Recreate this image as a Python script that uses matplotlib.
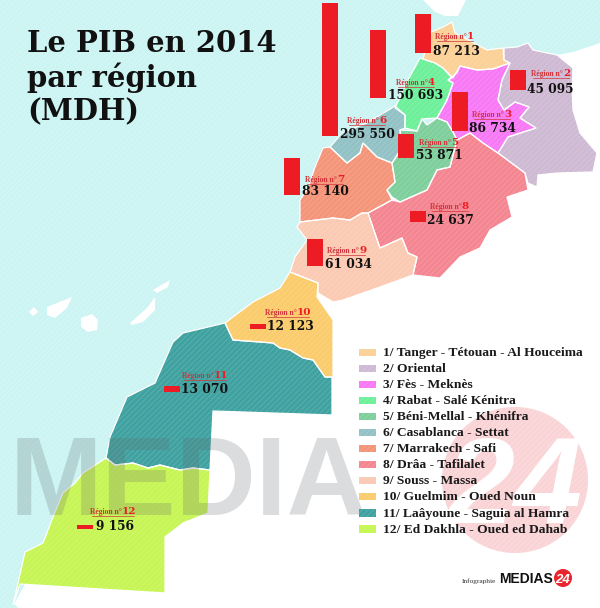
import matplotlib
matplotlib.use('Agg')
import matplotlib.pyplot as plt
from matplotlib.patches import Polygon, Circle, Rectangle

plt.rcParams['hatch.linewidth'] = 0.6

# PIB 2014 par region (MDH)
region_names = ['1/ Tanger - Tétouan - Al Houceima', '2/ Oriental', '3/ Fès - Meknès',
                '4/ Rabat - Salé Kénitra', '5/ Béni-Mellal - Khénifra', '6/ Casablanca - Settat',
                '7/ Marrakech - Safi', '8/ Drâa - Tafilalet', '9/ Souss - Massa',
                '10/ Guelmim - Oued Noun', '11/ Laâyoune - Saguia al Hamra',
                '12/ Ed Dakhla - Oued ed Dahab']
pib_values = [87213, 45095, 86734, 150693, 53871, 295550, 83140, 24637, 61034, 12123, 13070, 9156]

region_colors = ['#fbd197', '#cfbad4', '#f779f5', '#6eef9a', '#7fcf9c', '#92c2c5',
                 '#f4957a', '#f48692', '#fbcab3', '#fbcc6c', '#3fa2a0', '#c7f555']

# map outlines, in pixels of the picture
outlines = [
    [(431, 32), (443, 27), (452, 22), (455, 33), (472, 42), (487, 50), (503, 48), (504, 60), (510, 63),
     (493, 69), (477, 70), (460, 66), (453, 78), (443, 68), (435, 63), (423, 59)],
    [(504, 48), (517, 47), (528, 43), (533, 50), (557, 55), (573, 68), (572, 87), (573, 110), (580, 133),
     (597, 153), (593, 172), (557, 173), (538, 175), (537, 187), (528, 183), (525, 173), (498, 153),
     (508, 137), (536, 128), (520, 118), (529, 107), (515, 102), (504, 110), (498, 100), (502, 80),
     (510, 63), (504, 60)],
    [(460, 66), (477, 70), (493, 69), (510, 63), (502, 80), (498, 100), (504, 110), (515, 102), (529, 107),
     (520, 118), (536, 128), (508, 137), (498, 153), (483, 143), (470, 133), (457, 140), (453, 132),
     (447, 122), (437, 118), (447, 100), (453, 83), (448, 80), (457, 73)],
    [(420, 58), (435, 63), (443, 68), (452, 78), (448, 80), (453, 83), (447, 100), (437, 118), (422, 119),
     (417, 131), (405, 128), (405, 115), (395, 108), (408, 80)],
    [(417, 131), (422, 119), (427, 125), (437, 118), (447, 122), (453, 132), (457, 140), (450, 167),
     (437, 170), (427, 190), (400, 202), (392, 197), (387, 190), (395, 182), (392, 163), (402, 148),
     (400, 130)],
    [(395, 106), (405, 115), (405, 128), (400, 130), (402, 148), (392, 163), (377, 157), (363, 143),
     (360, 153), (347, 163), (330, 147), (342, 133), (367, 123)],
    [(323, 148), (330, 147), (347, 163), (360, 153), (363, 143), (377, 157), (392, 163), (395, 182),
     (387, 190), (392, 200), (368, 213), (362, 213), (350, 220), (333, 218), (300, 222), (300, 200),
     (308, 188), (315, 167)],
    [(470, 133), (483, 143), (498, 153), (525, 173), (528, 190), (507, 197), (512, 217), (490, 230),
     (480, 248), (460, 257), (440, 278), (413, 275), (417, 257), (408, 253), (402, 238), (380, 248),
     (368, 213), (392, 200), (400, 202), (427, 190), (437, 170), (450, 167), (457, 140)],
    [(300, 222), (333, 218), (350, 220), (362, 213), (368, 213), (380, 248), (402, 238), (408, 253),
     (417, 257), (413, 275), (380, 287), (343, 300), (333, 302), (318, 293), (318, 283), (290, 272),
     (295, 257), (307, 240), (297, 227)],
    [(290, 272), (318, 283), (317, 297), (333, 320), (333, 377), (325, 377), (313, 360), (303, 358),
     (290, 350), (280, 348), (273, 343), (233, 340), (225, 323), (253, 302), (280, 288)],
    [(225, 323), (233, 340), (273, 343), (280, 348), (290, 350), (303, 358), (313, 360), (325, 377),
     (332, 377), (332, 415), (213, 411), (210, 470), (193, 468), (180, 470), (160, 465), (148, 468),
     (133, 463), (115, 465), (106, 458), (110, 437), (127, 397), (155, 383), (173, 342), (183, 333)],
    [(106, 458), (115, 465), (133, 463), (148, 468), (160, 465), (180, 470), (193, 468), (210, 470),
     (208, 513), (183, 523), (165, 537), (165, 593), (20, 584), (13, 605), (25, 552), (43, 543),
     (53, 517), (63, 493), (75, 483), (83, 473)],
]
sea = [(0, 0), (423, 0), (435, 12), (445, 16), (458, 16), (466, 0), (600, 0), (600, 43), (573, 52),
       (530, 60), (470, 100), (400, 180), (340, 260), (300, 300), (260, 340), (200, 400), (120, 470),
       (60, 520), (30, 575), (14, 604), (18, 608), (0, 608)]
islands = [
    [(47, 307), (72, 297), (67, 308), (55, 318), (47, 315)],
    [(130, 323), (147, 308), (155, 297), (155, 310), (143, 322), (132, 325)],
    [(153, 290), (170, 280), (168, 287), (157, 293)],
    [(81, 318), (92, 314), (98, 320), (97, 330), (88, 332), (81, 327)],
    [(29, 312), (34, 307), (38, 312), (33, 316)],
]

# bar placement: centre x and foot y of each bar, on the map
bar_x = [423, 518, 460, 378, 406, 330, 292, 418, 315, 258, 172, 85]
bar_foot = [53, 90, 131, 98, 158, 136, 195, 222, 266, 329, 392, 529]
px_per_mdh = 0.45 / 1000
# value text and "Région n°" label
value_pos = [(433, 55), (527, 93), (469, 132), (388, 99), (416, 159), (340, 138), (302, 195), (427, 224),
             (325, 268), (267, 330), (181, 393), (96, 530)]
label_pos = [(467, 39), (563, 76), (504, 117), (428, 85), (451, 145), (379, 123), (337, 182), (462, 209),
             (359, 253), (297, 315), (214, 378), (122, 514)]


def lighten(col, amount=0.16):
    rgb = matplotlib.colors.to_rgb(col)
    return tuple(c + (1 - c) * amount for c in rgb)


fig = plt.figure(figsize=(6, 6.08), dpi=100)
ax = fig.add_axes([0, 0, 1, 1])
ax.set_xlim(0, 600)
ax.set_ylim(608, 0)
ax.axis('off')

serif = 'Liberation Serif'
wide_serif = 'DejaVu Serif'
sans = 'Liberation Sans'

ax.add_patch(Polygon(sea, closed=True, facecolor='#cbf4f3', edgecolor='#d6f7f6', hatch='//////', lw=0, zorder=1))
for isl in islands:
    ax.add_patch(Polygon(isl, closed=True, facecolor='white', edgecolor='none', zorder=2))

# watermark circle
ax.add_patch(Circle((515, 480), 73, facecolor='#f9d3d5', edgecolor='#fbdfe0', hatch='//////', lw=0, zorder=2))
ax.text(515, 523, '24', family=sans, weight='bold', style='italic', fontsize=88,
        color='white', ha='center', va='baseline', zorder=2.5)

for pts, col in zip(outlines, region_colors):
    ax.add_patch(Polygon(pts, closed=True, facecolor=col, edgecolor=lighten(col), hatch='//////', lw=0, zorder=3))
    ax.add_patch(Polygon(pts, closed=True, fill=False, edgecolor='white', lw=0.9, zorder=3.2))

# watermark text sits over the map
ax.text(10, 515, 'MEDIA', family=sans, weight='bold', fontsize=80, color='#5f6468',
        alpha=0.22, ha='left', va='baseline', zorder=3.5)

# bars
heights = [-v * px_per_mdh for v in pib_values]
ax.bar(bar_x, heights, width=16, bottom=bar_foot, color='#ed1c24', zorder=4)

for i, v in enumerate(pib_values):
    txt = f'{v:,}'.replace(',', ' ')
    ax.text(value_pos[i][0], value_pos[i][1], txt, family=wide_serif, weight='bold', fontsize=8.8,
            color='#111111', ha='left', va='baseline', zorder=5)
    lx, ly = label_pos[i]
    ax.text(lx, ly, 'Région n°', family=serif, weight='bold', fontsize=5.5, color='#d0343a',
            ha='right', va='baseline', zorder=5)
    ax.text(lx, ly, str(i + 1), family=wide_serif, weight='bold', fontsize=7.5, color='#ed1c24',
            ha='left', va='baseline', zorder=5)
    ax.plot([lx - 30, lx + (6 if i < 9 else 12)], [ly + 2, ly + 2], color='#d0343a', lw=0.5, zorder=5)

# title
for line, y in zip(['Le PIB en 2014', 'par région', '(MDH)'], [52, 87, 120]):
    ax.text(27, y, line, family=wide_serif, weight='bold', fontsize=20.9, color='#111111',
            ha='left', va='baseline', zorder=6)

# legend
for i, name in enumerate(region_names):
    y = 352 + i * 16.05
    ax.add_patch(Rectangle((359, y - 3.5), 17, 7.5, facecolor=region_colors[i], edgecolor=lighten(region_colors[i]),
                           hatch='//////', lw=0, zorder=6))
    ax.text(383, y + 4, name, family=serif, weight='bold', fontsize=9.7, color='#1a1a1a',
            ha='left', va='baseline', zorder=6)

# logo
ax.text(462, 583, 'Infographie', family=serif, fontsize=5.3, color='#333333', ha='left', va='baseline', zorder=6)
ax.text(499, 583, 'MEDIAS', family=sans, weight='bold', fontsize=10, color='#111111',
        ha='left', va='baseline', zorder=6)
ax.add_patch(Circle((563, 578), 9, facecolor='#e8242c', edgecolor='none', zorder=6))
ax.text(563, 583, '24', family=sans, weight='bold', style='italic', fontsize=9.5, color='white',
        ha='center', va='baseline', zorder=7)

fig.savefig('out.png', dpi=100)
